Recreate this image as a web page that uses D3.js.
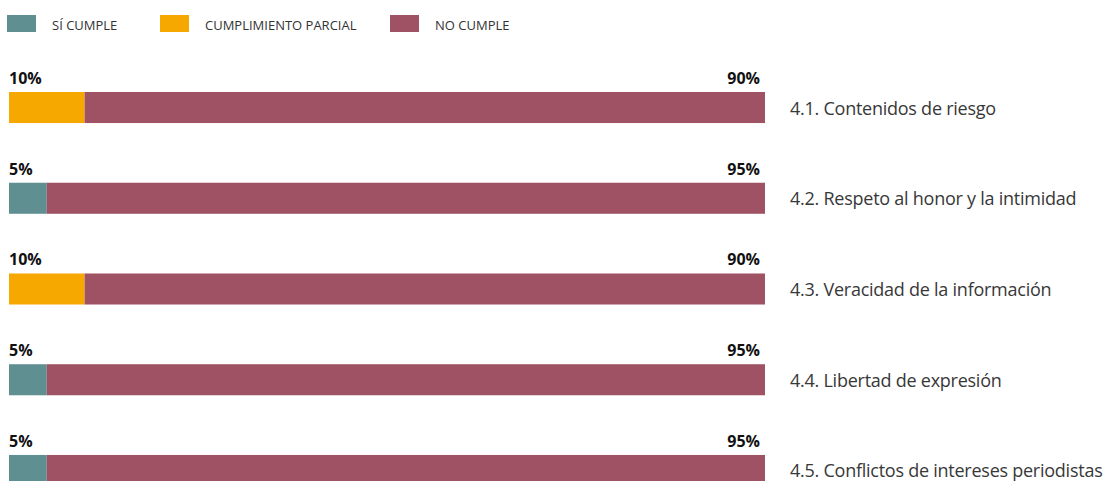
<!DOCTYPE html>
<html>
<head>
<meta charset="utf-8">
<script src="https://cdn.jsdelivr.net/npm/d3@7"></script>
<style>
  body { margin: 0; background: #fff; }
  svg { display: block; }
</style>
</head>
<body>
<svg id="chart"></svg>
<script>
const categories = [
  '4.1. Contenidos de riesgo',
  '4.2. Respeto al honor y la intimidad',
  '4.3. Veracidad de la información',
  '4.4. Libertad de expresión',
  '4.5. Conflictos de intereses periodistas'
];
const seriesNames = ['SÍ CUMPLE', 'CUMPLIMIENTO PARCIAL', 'NO CUMPLE'];
const siCumple = [0, 5, 0, 5, 5];
const parcial = [10, 0, 10, 0, 0];
const noCumple = [90, 95, 90, 95, 95];
const colors = ['#5f8f91', '#f6a800', '#9e5264'];

const width = 1107, height = 481;
const svg = d3.select('#chart').attr('width', width).attr('height', height);

// tabla para el apilado
const table = categories.map((c, i) => ({
  cat: c,
  [seriesNames[0]]: siCumple[i],
  [seriesNames[1]]: parcial[i],
  [seriesNames[2]]: noCumple[i]
}));
const stacked = d3.stack().keys(seriesNames)(table);

const x = d3.scaleLinear().domain([0, 100]).range([9, 765]);
const y = d3.scaleBand().domain(categories).range([92, 486]).paddingInner(0.658);
const color = d3.scaleOrdinal().domain(seriesNames).range(colors);

// barras
svg.append('g')
  .selectAll('g')
  .data(stacked)
  .join('g')
  .attr('fill', (d) => color(d.key))
  .selectAll('rect')
  .data((d) => d)
  .join('rect')
  .attr('x', (d) => x(d[0]))
  .attr('y', (d) => y(d.data.cat))
  .attr('width', (d) => x(d[1]) - x(d[0]))
  .attr('height', y.bandwidth());

// porcentajes
const labels = svg.append('g')
  .attr('font-family', 'Open Sans, sans-serif')
  .attr('font-weight', 700)
  .attr('font-size', 16)
  .attr('fill', '#111');

table.forEach((d, i) => {
  const left = siCumple[i] || parcial[i];
  labels.append('text')
    .attr('x', x(0))
    .attr('y', y(d.cat) - 8)
    .text(left + '%');
  labels.append('text')
    .attr('x', x(100) - 5)
    .attr('y', y(d.cat) - 8)
    .attr('text-anchor', 'end')
    .text(noCumple[i] + '%');
});

// nombres de categoría
svg.append('g')
  .selectAll('text')
  .data(categories)
  .join('text')
  .attr('x', 790)
  .attr('y', (d) => y(d) + y.bandwidth() / 2 + 7)
  .attr('font-family', 'Open Sans, sans-serif')
  .attr('font-weight', 400)
  .attr('font-size', 18)
  .attr('letter-spacing', -0.25)
  .attr('fill', '#383838')
  .text((d) => d);

// leyenda
const legendX = [7, 160, 390];
const legend = svg.append('g')
  .selectAll('g')
  .data(seriesNames)
  .join('g')
  .attr('transform', (d, i) => `translate(${legendX[i]},15)`);
legend.append('rect')
  .attr('width', 29)
  .attr('height', 17)
  .attr('fill', (d) => color(d));
legend.append('text')
  .attr('x', 45)
  .attr('y', 15)
  .attr('font-family', 'Open Sans, sans-serif')
  .attr('font-size', 13)
  .attr('fill', '#333')
  .text((d) => d);
</script>
</body>
</html>
